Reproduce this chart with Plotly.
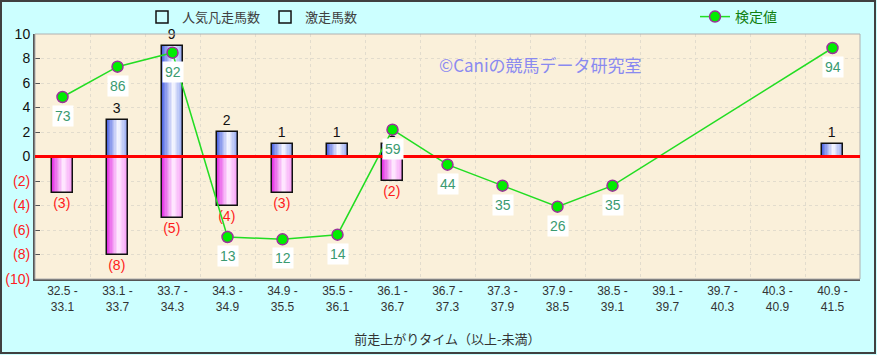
import plotly.graph_objects as go

# ---------------- data ----------------
categories = ["32.5 -<br>33.1", "33.1 -<br>33.7", "33.7 -<br>34.3", "34.3 -<br>34.9",
              "34.9 -<br>35.5", "35.5 -<br>36.1", "36.1 -<br>36.7", "36.7 -<br>37.3",
              "37.3 -<br>37.9", "37.9 -<br>38.5", "38.5 -<br>39.1", "39.1 -<br>39.7",
              "39.7 -<br>40.3", "40.3 -<br>40.9", "40.9 -<br>41.5"]
popular_flop = [3, 8, 5, 4, 3, 0, 2, 0, 0, 0, 0, 0, 0, 0, 0]      # 人気凡走馬数 (drawn negative)
gekiso = [0, 3, 9, 2, 1, 1, 1, 0, 0, 0, 0, 0, 0, 0, 1]            # 激走馬数
check_value = [73, 86, 92, 13, 12, 14, 59, 44, 35, 26, 35, None, None, None, 94]  # 検定値
y_tickvals = [10, 8, 6, 4, 2, 0, -2, -4, -6, -8, -10]
y_ticktext = ["10", "8", "6", "4", "2", "0", "(2)", "(4)", "(6)", "(8)", "(10)"]

# ---------------- layout constants ----------------
W, H = 877, 355
ML, MR, MT, MB = 35, 17, 34, 76
PW, PH = W - ML - MR, H - MT - MB
FONT = "Liberation Sans, Arial, Noto Sans CJK JP, sans-serif"
JFONT = "Noto Sans CJK JP, sans-serif"

BAR_W = 0.38
N_SLICES = 16


def lerp(c1, c2, t):
    return tuple(round(a + (b - a) * t) for a, b in zip(c1, c2))


def grad(t, left, mid, right, tm=0.55):
    if t <= tm:
        c = lerp(left, mid, t / tm)
    else:
        c = lerp(mid, right, (t - tm) / (1 - tm))
    return "rgb(%d,%d,%d)" % c


fig = go.Figure()


def add_gradient_bars(vals, left, mid, right, name, text, tcolor):
    yv = [v if v != 0 else None for v in vals]
    sw = BAR_W / N_SLICES
    for i in range(N_SLICES):
        t = (i + 0.5) / N_SLICES
        fig.add_trace(go.Bar(
            x=categories, y=yv, width=sw * 1.15, offset=-BAR_W / 2 + i * sw,
            marker=dict(color=grad(t, left, mid, right), line=dict(width=0)),
            showlegend=False, hoverinfo="skip", legendgroup=name))
    fig.add_trace(go.Bar(
        x=categories, y=yv, width=BAR_W, offset=-BAR_W / 2, name=name,
        marker=dict(color="rgba(255,255,255,0)", line=dict(color="#111111", width=1.5)),
        text=text, textposition="outside", cliponaxis=False,
        textfont=dict(color=tcolor, size=14, family=FONT),
        legend="legend", legendgroup=name))


pink_vals = [-v for v in popular_flop]
pink_text = ["(%d)" % v if v else "" for v in popular_flop]
add_gradient_bars(pink_vals, (225, 40, 225), (255, 238, 255), (245, 150, 245),
                  "人気凡走馬数", pink_text, "#ff1a1a")

blue_text = [str(v) if v else "" for v in gekiso]
add_gradient_bars(gekiso, (70, 95, 225), (250, 250, 255), (140, 160, 240),
                  "激走馬数", blue_text, "#111111")

fig.add_trace(go.Scatter(
    x=categories, y=check_value, yaxis="y2", name="検定値",
    mode="lines+markers", connectgaps=True,
    line=dict(color="#22dd22", width=1.5),
    marker=dict(size=11, color="#00ee00", line=dict(color="#993399", width=1.5)),
    legend="legend2"))

annotations = []
for c, v in zip(categories, check_value):
    if v is None:
        continue
    annotations.append(dict(
        x=c, y=v, xref="x", yref="y2", text=str(v), showarrow=False,
        yshift=-19, bgcolor="white", borderpad=2,
        font=dict(color="#3a9a70", size=14, family=FONT)))

annotations.append(dict(
    x=(540 - ML) / PW, y=1 - (50 - MT) / PH, xref="paper", yref="paper",
    text="©Caniの競馬データ研究室", showarrow=False,
    font=dict(color="#8a8af0", size=17, family=JFONT)))

shapes = [
    # plot frame (light)
    dict(type="rect", xref="paper", yref="paper", x0=0, x1=1, y0=0, y1=1,
         line=dict(color="#b0b0b0", width=1), layer="above"),
    # red zero line
    dict(type="line", xref="paper", yref="y", x0=0, x1=1, y0=0, y1=0,
         line=dict(color="#ff0000", width=3), layer="above"),
    # outer figure border
    dict(type="rect", xref="paper", yref="paper",
         x0=(1 - ML) / PW, x1=(W - 2 - ML) / PW,
         y0=-(H - 2 - MT - PH) / PH, y1=1 + (MT - 1) / PH,
         line=dict(color="#404040", width=2), layer="below"),
]

fig.update_layout(
    width=W, height=H,
    margin=dict(l=ML, r=MR, t=MT, b=MB, pad=0, autoexpand=False),
    paper_bgcolor="#ccffff", plot_bgcolor="#faf0da",
    barmode="overlay", bargap=0,
    font=dict(family=FONT, size=13, color="#222222"),
    xaxis=dict(
        type="category", tickson="boundaries", showgrid=True,
        gridcolor="#e2dccd", griddash="dot", gridwidth=1,
        ticks="", showline=True, linecolor="#555555", linewidth=2,
        tickfont=dict(size=12, color="#333333", family=FONT),
        title=dict(text="前走上がりタイム（以上-未満）", standoff=22,
                   font=dict(size=13, color="#333333", family=JFONT)),
        range=[-0.5, len(categories) - 0.5], fixedrange=True, automargin=False),
    yaxis=dict(
        range=[-10, 10], tickvals=y_tickvals,
        ticktext=[t if not t.startswith("(") else '<span style="color:#ff2020">%s</span>' % t
                  for t in y_ticktext],
        showgrid=True, gridcolor="#e2dccd", griddash="dot", gridwidth=1,
        zeroline=False, ticks="inside", ticklen=5, tickcolor="#555555",
        showline=True, linecolor="#555555", linewidth=2, automargin=False,
        tickfont=dict(size=14, color="#111111", family=FONT)),
    yaxis2=dict(range=[-5, 100], overlaying="y", visible=False),
    legend=dict(orientation="h", x=(142 - ML) / PW, y=1 + (MT - 17) / PH,
                xanchor="left", yanchor="middle", bgcolor="rgba(0,0,0,0)",
                font=dict(size=13, color="#404040", family=JFONT)),
    legend2=dict(orientation="h", x=(695 - ML) / PW, y=1 + (MT - 17) / PH,
                 xanchor="left", yanchor="middle", bgcolor="rgba(0,0,0,0)",
                 font=dict(size=14, color="#108010", family=JFONT)),
    annotations=annotations, shapes=shapes,
)

fig.write_html("out.html", config={"displayModeBar": False},
               post_script="document.body.style.margin='0';document.body.style.padding='0';")
